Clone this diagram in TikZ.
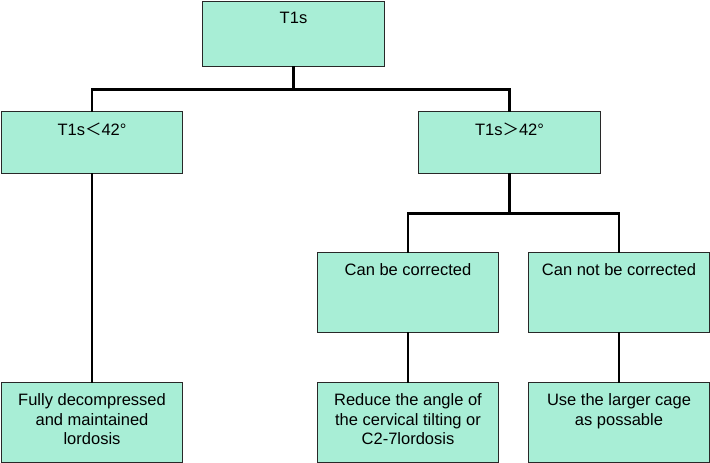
\documentclass[tikz,border=0pt]{standalone}
\usepackage{fontspec}
\setmainfont{Liberation Sans}
\newfontfamily\cjk{Noto Sans CJK SC}
\usetikzlibrary{positioning}

\definecolor{boxfill}{RGB}{168,238,214}
\definecolor{boxline}{RGB}{40,40,40}

% text of a box, set from its top edge
\newcommand\boxtext[3]{\parbox[t][#2pt][t]{#1pt}{\centering\vspace*{11pt}#3}}

\tikzset{
  box/.style={draw=boxline,fill=boxfill,line width=1pt,inner sep=0pt,
    anchor=north west,font=\fontsize{16.5}{19.7}\selectfont},
  link/.style={draw=black,line width=2.2pt,line cap=rect}
}

\begin{document}
\begin{tikzpicture}[x=1pt,y=-1pt]
  \useasboundingbox (0,0) rectangle (710,463);

  \node[box] (root) at (202,1) {\boxtext{182}{65}{T1s}};
  \node[box] (low) at (1,111) {\boxtext{181}{62}{T1s{\cjk ＜}42°}};
  \node[box] (high) at (418,111) {\boxtext{182}{62}{T1s{\cjk ＞}42°}};
  \node[box] (corr) at (317,252) {\boxtext{181}{80}{Can be corrected}};
  \node[box] (notcorr) at (528,252) {\boxtext{181}{80}{Can not be corrected}};
  \node[box] (fully) at (1,382) {\boxtext{181}{80}{Fully decompressed\\and maintained\\lordosis}};
  \node[box] (reduce) at (317,382) {\boxtext{181}{80}{Reduce the angle of\\the cervical tilting or\\C2-7lordosis}};
  \node[box] (cage) at (528,382) {\boxtext{181}{80}{Use the larger cage\\as possable}};

  % connectors
  \draw[link] (root.south) -- ++(0,22.5) -| (low.north);
  \draw[link] (root.south) -- ++(0,22.5) -| (high.north);
  \draw[link] (high.south) -- ++(0,39.5) -| (corr.north);
  \draw[link] (high.south) -- ++(0,39.5) -| (notcorr.north);
  \draw[link] (low.south) -- (fully.north);
  \draw[link] (corr.south) -- (reduce.north);
  \draw[link] (notcorr.south) -- (cage.north);
\end{tikzpicture}
\end{document}
